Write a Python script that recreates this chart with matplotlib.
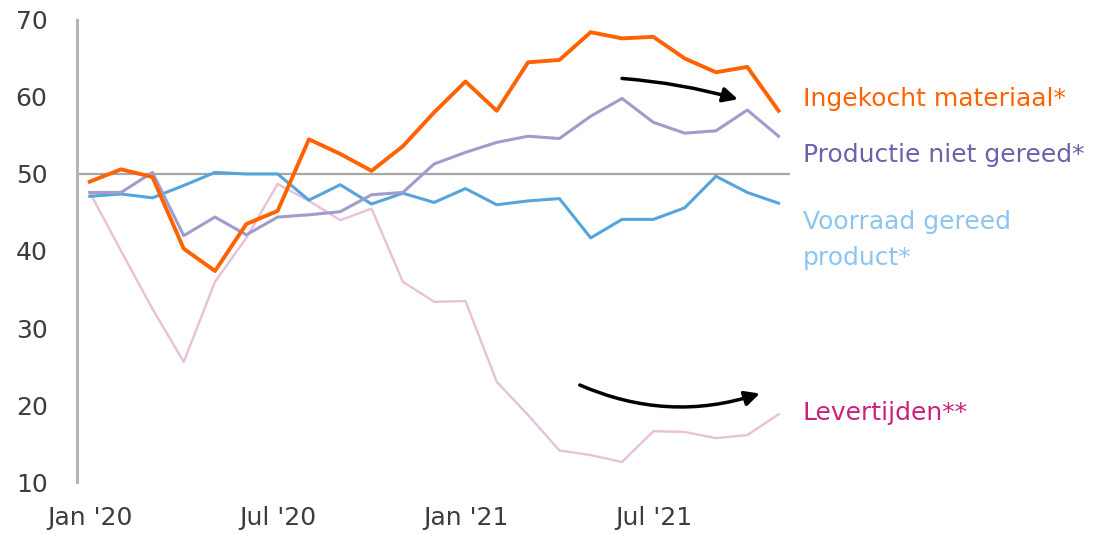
import matplotlib.pyplot as plt

# maandelijkse reeksen, jan 2020 t/m nov 2021
maanden = ["Jan '20", "", "", "", "", "", "Jul '20", "", "", "", "", "",
           "Jan '21", "", "", "", "", "", "Jul '21", "", "", "", ""]

ingekocht = [49.0, 50.6, 49.6, 40.3, 37.4, 43.5, 45.2, 54.5, 52.6, 50.4, 53.6, 58.0,
             62.0, 58.2, 64.5, 64.8, 68.4, 67.6, 67.8, 65.0, 63.2, 63.9, 58.2]
productie = [47.6, 47.6, 50.2, 42.0, 44.4, 42.1, 44.4, 44.7, 45.1, 47.3, 47.6, 51.3,
             52.8, 54.1, 54.9, 54.6, 57.5, 59.8, 56.7, 55.3, 55.6, 58.3, 54.9]
voorraad = [47.1, 47.4, 46.9, 48.5, 50.2, 50.0, 50.0, 46.6, 48.6, 46.1, 47.5, 46.3,
            48.1, 46.0, 46.5, 46.8, 41.7, 44.1, 44.1, 45.6, 49.7, 47.6, 46.2]
levertijden = [47.6, 40.0, 32.5, 25.6, 36.0, 41.7, 48.7, 46.5, 44.0, 45.5, 36.0, 33.4,
               33.5, 23.0, 18.7, 14.1, 13.5, 12.6, 16.6, 16.5, 15.7, 16.1, 18.8]

plt.rcParams['font.family'] = ['DejaVu Sans']

fig = plt.figure(figsize=(10.97, 5.38), dpi=100)
ax = fig.add_axes([0.070, 0.104, 0.650, 0.859])

x = list(range(len(maanden)))

ax.axhline(50, color='#a6a6a6', lw=1.6, zorder=1)
ax.plot(x, levertijden, color='#e8c0da', lw=1.7, zorder=2)
ax.plot(x, voorraad, color='#55a5dc', lw=2.2, zorder=3)
ax.plot(x, productie, color='#a09ccb', lw=2.2, zorder=3)
ax.plot(x, ingekocht, color='#ff6200', lw=2.8, zorder=4)

ax.set_xlim(-0.415, 22.36)
ax.set_ylim(10, 70)
ax.set_yticks([10, 20, 30, 40, 50, 60, 70])
ax.set_xticks(x)
ax.set_xticklabels(maanden)

for s in ['top', 'right', 'bottom']:
    ax.spines[s].set_visible(False)
ax.spines['left'].set_color('#b5b5b5')
ax.spines['left'].set_linewidth(2.2)

ax.tick_params(axis='y', length=0, pad=21, labelsize=18, labelcolor='#3c3c3c')
ax.tick_params(axis='x', length=0, pad=17, labelsize=18, labelcolor='#3c3c3c')

# labels rechts van de lijnen
lx = 22.78
fs = 18
ax.text(lx, 58.8, "Ingekocht materiaal*", color='#ff6200', fontsize=fs,
        va='baseline', clip_on=False)
ax.text(lx, 51.55, "Productie niet gereed*", color='#6a63aa', fontsize=fs,
        va='baseline', clip_on=False)
ax.text(lx, 42.9, "Voorraad gereed", color='#8cc5ee', fontsize=fs,
        va='baseline', clip_on=False)
ax.text(lx, 38.2, "product*", color='#8cc5ee', fontsize=fs,
        va='baseline', clip_on=False)
ax.text(lx, 18.0, "Levertijden**", color='#c8237a', fontsize=fs,
        va='baseline', clip_on=False)

# pijlen
ax.annotate("", xy=(20.7, 59.7), xytext=(17.0, 62.4),
            arrowprops=dict(arrowstyle='-|>', color='black', lw=2.5,
                            mutation_scale=22, shrinkA=0, shrinkB=0,
                            connectionstyle='arc3,rad=-0.05'))
ax.annotate("", xy=(21.4, 21.5), xytext=(15.65, 22.6),
            arrowprops=dict(arrowstyle='-|>', color='black', lw=2.5,
                            mutation_scale=22, shrinkA=0, shrinkB=0,
                            connectionstyle='arc3,rad=0.19'))

fig.savefig('out.png', dpi=100)
